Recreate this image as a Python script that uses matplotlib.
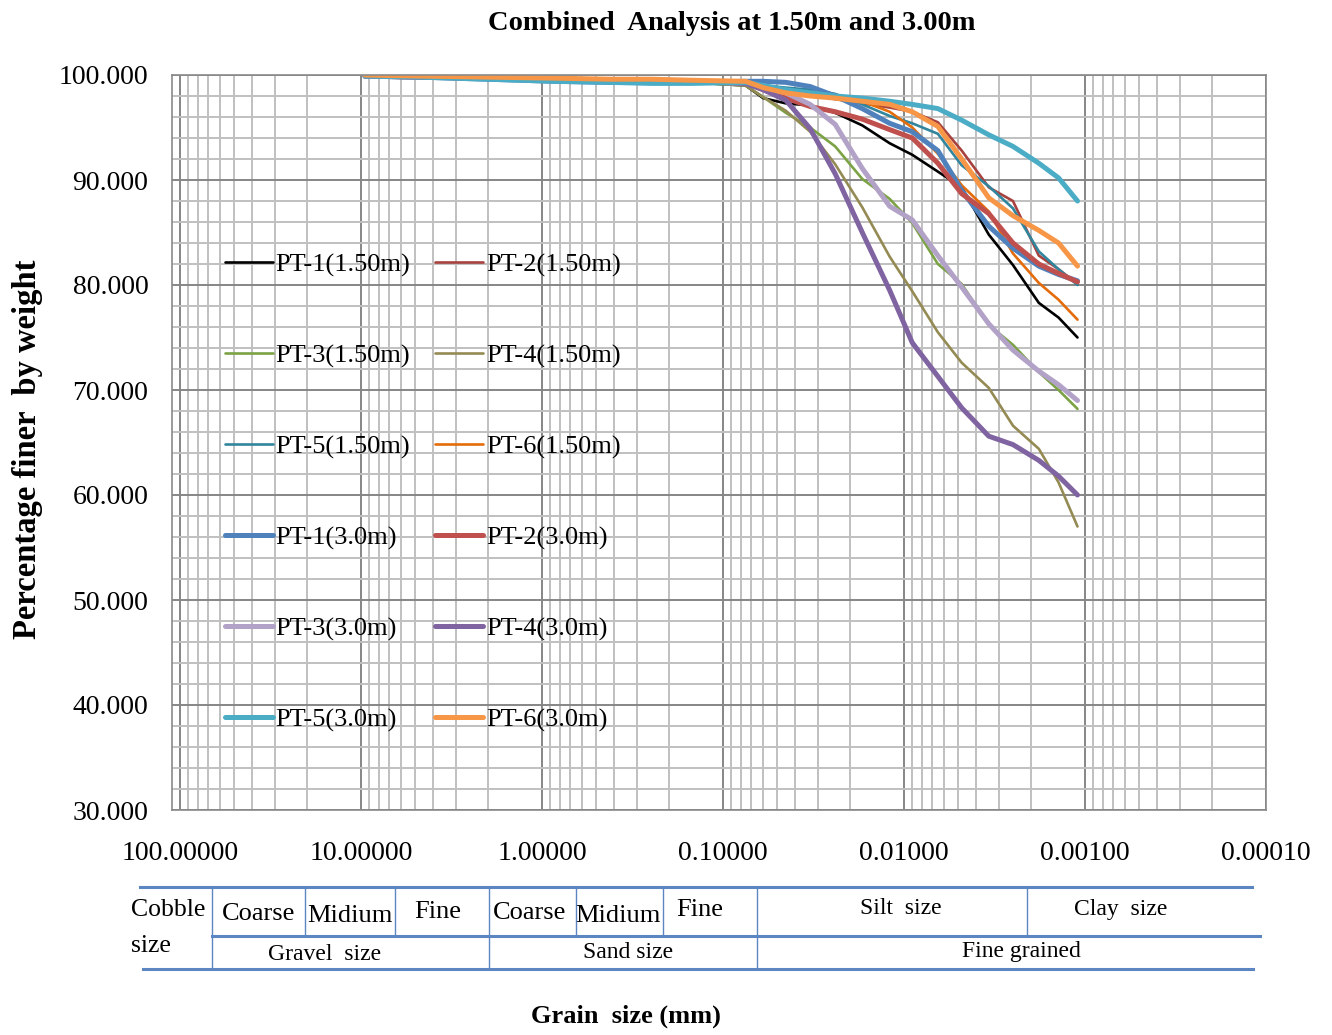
import matplotlib
matplotlib.use("Agg")
import matplotlib.pyplot as plt
from matplotlib.ticker import FixedLocator, FixedFormatter, NullFormatter
import numpy as np

plt.rcParams['font.family'] = ['Liberation Serif', 'DejaVu Serif']

# ---------------- data ----------------
grain_size_mm = [9.5, 4.75, 2.0, 0.85, 0.425, 0.25, 0.15, 0.075,
                 0.06, 0.045, 0.033, 0.024, 0.017, 0.012, 0.009, 0.0065,
                 0.0048, 0.0034, 0.0025, 0.0018, 0.0014, 0.0011]

series_names = ["PT-1(1.50m)", "PT-2(1.50m)", "PT-3(1.50m)", "PT-4(1.50m)",
                "PT-5(1.50m)", "PT-6(1.50m)", "PT-1(3.0m)", "PT-2(3.0m)",
                "PT-3(3.0m)", "PT-4(3.0m)", "PT-5(3.0m)", "PT-6(3.0m)"]

pt1_150 = [99.9, 99.8, 99.6, 99.5, 99.4, 99.3, 99.3, 99.0,
           97.8, 97.3, 97.1, 96.4, 95.2, 93.5, 92.4, 90.8, 89.3, 84.8, 81.9, 78.3, 76.9, 75.0]
pt2_150 = [99.9, 99.8, 99.7, 99.6, 99.5, 99.4, 99.4, 99.2,
           98.9, 98.5, 98.1, 97.7, 97.3, 96.9, 96.5, 95.5, 92.8, 89.3, 88.0, 82.8, 81.5, 80.1]
pt3_150 = [99.9, 99.8, 99.6, 99.5, 99.4, 99.3, 99.3, 99.0,
           97.9, 96.4, 95.0, 93.2, 90.1, 88.2, 85.9, 82.0, 80.1, 76.2, 74.3, 71.7, 70.0, 68.2]
pt4_150 = [99.9, 99.8, 99.6, 99.5, 99.4, 99.3, 99.3, 99.0,
           97.9, 96.6, 94.6, 91.5, 87.4, 82.7, 79.4, 75.5, 72.6, 70.2, 66.6, 64.4, 61.2, 57.0]
pt5_150 = [99.9, 99.8, 99.6, 99.4, 99.3, 99.2, 99.2, 99.2,
           99.0, 98.8, 98.6, 98.2, 97.2, 96.1, 95.4, 94.4, 91.4, 89.4, 87.3, 83.2, 81.5, 80.0]
pt6_150 = [100.0, 99.9, 99.8, 99.7, 99.6, 99.5, 99.4, 99.3,
           98.8, 98.4, 98.1, 97.8, 97.5, 96.5, 95.0, 92.5, 89.5, 87.0, 83.0, 80.2, 78.6, 76.7]
pt1_300 = [99.9, 99.8, 99.6, 99.4, 99.3, 99.3, 99.3, 99.4,
           99.4, 99.3, 98.9, 98.0, 96.8, 95.4, 94.6, 92.8, 89.0, 85.6, 83.5, 81.8, 81.0, 80.4]
pt2_300 = [99.9, 99.8, 99.7, 99.6, 99.5, 99.4, 99.4, 99.3,
           98.6, 97.8, 97.0, 96.5, 95.8, 94.8, 94.0, 91.6, 88.7, 86.8, 84.0, 82.0, 81.1, 80.3]
pt3_300 = [99.9, 99.8, 99.7, 99.6, 99.5, 99.4, 99.4, 99.2,
           98.8, 98.3, 97.2, 95.3, 91.1, 87.5, 86.2, 82.8, 79.8, 76.3, 73.8, 71.8, 70.5, 69.0]
pt4_300 = [99.9, 99.8, 99.7, 99.6, 99.5, 99.4, 99.4, 99.2,
           98.6, 97.6, 94.9, 90.6, 85.0, 79.5, 74.5, 71.3, 68.3, 65.6, 64.8, 63.3, 61.8, 60.0]
pt5_300 = [99.9, 99.8, 99.6, 99.4, 99.3, 99.2, 99.2, 99.3,
           99.0, 98.6, 98.3, 98.0, 97.8, 97.5, 97.2, 96.8, 95.7, 94.3, 93.2, 91.6, 90.2, 88.0]
pt6_300 = [100.0, 99.9, 99.8, 99.7, 99.6, 99.6, 99.5, 99.4,
           98.8, 98.3, 98.0, 97.8, 97.5, 97.2, 96.5, 95.1, 92.0, 88.3, 86.6, 85.2, 84.0, 81.8]

series_values = [pt1_150, pt2_150, pt3_150, pt4_150, pt5_150, pt6_150,
                 pt1_300, pt2_300, pt3_300, pt4_300, pt5_300, pt6_300]

series_colors = ['#000000', '#A8423F', '#7BA345', '#948A54', '#31859C', '#E46C0A',
                 '#4F81BD', '#C0504D', '#B3A2C7', '#8064A2', '#4BACC6', '#F79646']
series_widths = [1.9] * 6 + [3.6] * 6

x_ticks = [100, 10, 1, 0.1, 0.01, 0.001, 0.0001]
x_tick_labels = ["100.00000", "10.00000", "1.00000", "0.10000", "0.01000", "0.00100", "0.00010"]
y_ticks = [30, 40, 50, 60, 70, 80, 90, 100]
y_tick_labels = ["30.000", "40.000", "50.000", "60.000", "70.000", "80.000", "90.000", "100.000"]

# ---------------- figure ----------------
W, H = 1332, 1035
fig = plt.figure(figsize=(W / 100, H / 100), dpi=100)
L, R, T, B = 172, 1266, 75, 810
ax = fig.add_axes([L / W, 1 - B / H, (R - L) / W, (B - T) / H])

ax.set_xscale('log')
ax.set_xlim(110.7, 0.0001)
ax.set_ylim(30, 100)

# grid
minor_x = [m * 10.0 ** k for k in range(-4, 2) for m in range(2, 10)]
ax.xaxis.set_major_locator(FixedLocator(x_ticks))
ax.xaxis.set_major_formatter(FixedFormatter(x_tick_labels))
ax.xaxis.set_minor_locator(FixedLocator(minor_x))
ax.xaxis.set_minor_formatter(NullFormatter())
ax.yaxis.set_major_locator(FixedLocator(y_ticks))
ax.yaxis.set_major_formatter(FixedFormatter(y_tick_labels))
ax.yaxis.set_minor_locator(FixedLocator(list(range(32, 100, 2))))
ax.grid(which='minor', color='#C0C0C0', linewidth=1.4)
ax.grid(which='major', color='#868686', linewidth=1.4)
ax.set_axisbelow(True)
for s in ax.spines.values():
    s.set_color('#8A8A8A')
    s.set_linewidth(1.2)

ax.tick_params(which='both', length=0)
ax.tick_params(axis='y', labelsize=20, pad=17, colors='#000000')
ax.tick_params(axis='x', labelsize=20, pad=22, colors='#000000')

lines = []
for name, vals, c, lw in zip(series_names, series_values, series_colors, series_widths):
    ln, = ax.plot(grain_size_mm, vals, color=c, linewidth=lw, label=name,
                  solid_capstyle='round', solid_joinstyle='round')
    lines.append(ln)

# legend (Excel fills row-wise: reorder for matplotlib column-wise fill)
order = [0, 2, 4, 6, 8, 10, 1, 3, 5, 7, 9, 11]
leg = ax.legend([lines[i] for i in order], [series_names[i] for i in order],
                ncol=2, loc='upper left', bbox_to_anchor=(225 / W, 1 - 253 / H),
                bbox_transform=fig.transFigure, frameon=False, fontsize=19,
                handlelength=1.8, handletextpad=0.12, columnspacing=0.95,
                labelspacing=2.54, borderpad=0, borderaxespad=0)

# title and axis labels
fig.text(732 / W, 1 - 23 / H, "Combined  Analysis at 1.50m and 3.00m",
         ha='center', va='center', fontsize=20.5, fontweight='bold')
fig.text(28 / W, 1 - 449 / H, "Percentage finer  by weight", rotation=90,
         ha='center', va='center', fontsize=23.5, fontweight='bold')
fig.text(626 / W, 1 - 1016 / H, "Grain  size (mm)", ha='center', va='center',
         fontsize=19, fontweight='bold')

# classification table below the chart (figure pixel coordinates)
tab = fig.add_axes([0, 0, 1, 1])
tab.set_xlim(0, W)
tab.set_ylim(H, 0)
tab.axis('off')
tab.patch.set_alpha(0)
tcol = '#5B86C2'
tab.plot([140, 1252], [887, 887], color=tcol, lw=2.2)
tab.plot([212, 1260], [936, 936], color=tcol, lw=2.2)
tab.plot([143, 1253], [969, 969], color=tcol, lw=2.2)
for xv in [212, 489, 757]:
    tab.plot([xv, xv], [887, 969], color=tcol, lw=1.0)
for xv in [305, 395, 576, 663, 1027]:
    tab.plot([xv, xv], [887, 936], color=tcol, lw=1.0)

top_labels = [("Coarse", 259, 914, 19), ("Midium", 350, 916, 19), ("Fine", 438, 912, 19),
              ("Coarse", 530, 913, 19), ("Midium", 618, 916, 19), ("Fine", 700, 910, 19),
              ("Silt  size", 901, 909, 17), ("Clay  size", 1121, 909, 17)]
for txt, xx, yy, fs in top_labels:
    tab.text(xx, yy, txt, ha='center', va='center', fontsize=fs)
tab.text(131, 910, "Cobble", ha='left', va='center', fontsize=18.5)
tab.text(131, 946, "size", ha='left', va='center', fontsize=18.5)
for txt, xx, yy in [("Gravel  size", 325, 955), ("Sand size", 628, 952), ("Fine grained", 1021, 952)]:
    tab.text(xx, yy, txt, ha='center', va='center', fontsize=17)

fig.savefig("out.png", dpi=100)
